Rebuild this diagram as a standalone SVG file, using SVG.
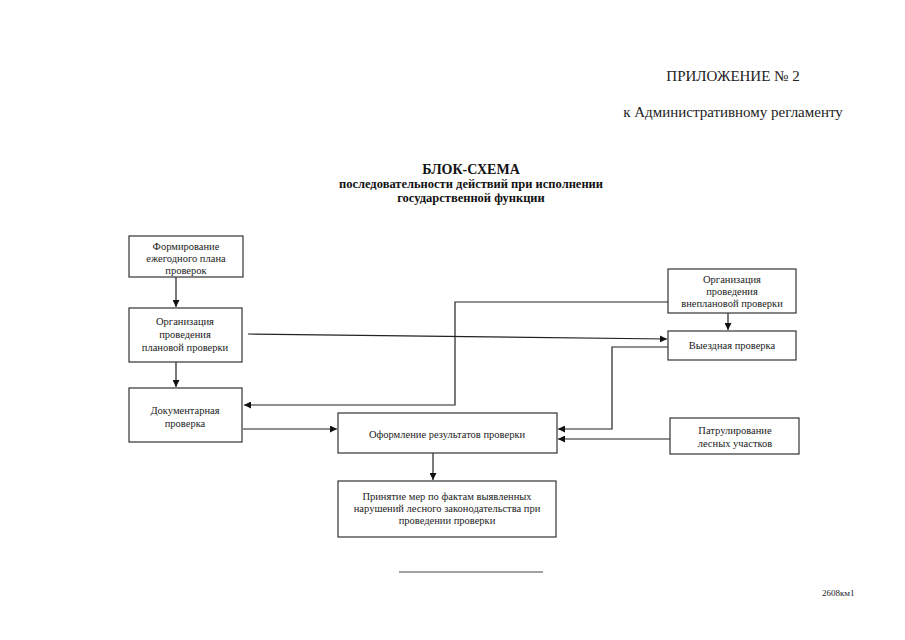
<svg xmlns="http://www.w3.org/2000/svg" width="905" height="640" viewBox="0 0 905 640">
<defs>
<marker id="ah" viewBox="0 0 10 10" refX="10" refY="5" markerWidth="7" markerHeight="7" orient="auto" markerUnits="userSpaceOnUse">
<path d="M0,0 L10,5 L0,10 z" fill="#111"/>
</marker>
<style>
.box{fill:#fff;stroke:#333;stroke-width:1.2}
.t{font-family:"Liberation Serif","Times New Roman",serif;font-size:10.5px;fill:#222;text-anchor:middle}
.h{font-family:"Liberation Serif","Times New Roman",serif;font-size:15px;fill:#222}
.b{font-family:"Liberation Serif","Times New Roman",serif;font-weight:bold;fill:#111;text-anchor:middle}
.c{fill:none;stroke:#222;stroke-width:1.2}
</style>
</defs>
<rect width="905" height="640" fill="#fff"/>
<text class="h" x="733" y="81" text-anchor="middle">ПРИЛОЖЕНИЕ № 2</text>
<text class="h" x="733" y="117" text-anchor="middle">к Административному регламенту</text>
<text class="b" x="471" y="174" font-size="14">БЛОК-СХЕМА</text>
<text class="b" x="471" y="188" font-size="12.5">последовательности действий при исполнении</text>
<text class="b" x="471" y="202" font-size="12.5">государственной функции</text>

<g id="connectors">
<line class="c" x1="176" y1="277" x2="176" y2="307" marker-end="url(#ah)"/>
<line class="c" x1="176" y1="362" x2="176" y2="387" marker-end="url(#ah)"/>
<polyline class="c" points="248,334 667,339" marker-end="url(#ah)"/>
<polyline class="c" points="668,302 455,302 455,405 244,405" marker-end="url(#ah)"/>
<line class="c" x1="728" y1="313" x2="728" y2="330" marker-end="url(#ah)"/>
<polyline class="c" points="668,347 612,347 612,429 558,429" marker-end="url(#ah)"/>
<polyline class="c" points="243,429 337,429" marker-end="url(#ah)"/>
<polyline class="c" points="670,439 558,439" marker-end="url(#ah)"/>
<line class="c" x1="433" y1="453" x2="433" y2="480" marker-end="url(#ah)"/>
</g>

<g id="n1"><rect class="box" x="129" y="236" width="114" height="41"/>
<text class="t" x="186" y="250">Формирование</text><text class="t" x="186" y="262">ежегодного плана</text><text class="t" x="186" y="274">проверок</text></g>
<g id="n2"><rect class="box" x="129" y="308" width="113" height="54"/>
<text class="t" x="185" y="325">Организация</text><text class="t" x="185" y="338">проведения</text><text class="t" x="185" y="351">плановой проверки</text></g>
<g id="n3"><rect class="box" x="129" y="388" width="113" height="54"/>
<text class="t" x="185" y="414">Документарная</text><text class="t" x="185" y="427">проверка</text></g>
<g id="n4"><rect class="box" x="668" y="269" width="128" height="44"/>
<text class="t" x="732" y="283">Организация</text><text class="t" x="732" y="295">проведения</text><text class="t" x="732" y="307">внеплановой проверки</text></g>
<g id="n5"><rect class="box" x="668" y="331" width="128" height="29"/>
<text class="t" x="732" y="349">Выездная проверка</text></g>
<g id="n6"><rect class="box" x="338" y="413" width="219" height="40"/>
<text class="t" x="447" y="438" font-size="11">Оформление результатов проверки</text></g>
<g id="n7"><rect class="box" x="670" y="418" width="129" height="36"/>
<text class="t" x="735" y="434">Патрулирование</text><text class="t" x="735" y="447">лесных участков</text></g>
<g id="n8"><rect class="box" x="338" y="481" width="218" height="56"/>
<text class="t" x="447" y="500">Принятие мер по фактам выявленных</text><text class="t" x="447" y="512">нарушений лесного законодательства при</text><text class="t" x="447" y="524">проведении проверки</text></g>

<line x1="399" y1="572" x2="543" y2="572" stroke="#444" stroke-width="1"/>
<text x="822" y="596" font-family="Liberation Serif, serif" font-size="9" fill="#222">2608км1</text>
</svg>
